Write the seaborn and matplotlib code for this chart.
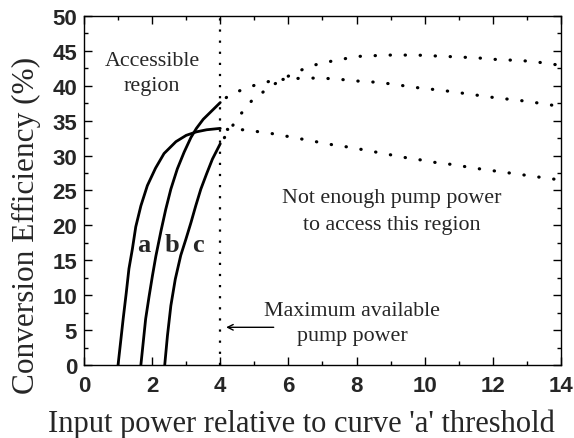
import numpy as np
import pandas as pd
import matplotlib
matplotlib.use('Agg')
import matplotlib.pyplot as plt
from matplotlib.ticker import MultipleLocator
import seaborn as sns

# solid curves (accessible region)
a_x = [1.0, 1.08, 1.15, 1.24, 1.32, 1.42, 1.52, 1.67, 1.86, 2.1, 2.35, 2.7, 3.0, 3.3, 3.6, 4.0]
a_y = [0, 3.5, 6.6, 10.3, 13.8, 16.6, 19.8, 22.8, 25.7, 28.2, 30.3, 32.0, 32.9, 33.4, 33.7, 33.9]
b_x = [1.67, 1.74, 1.81, 1.91, 2.01, 2.11, 2.26, 2.40, 2.55, 2.74, 2.94, 3.14, 3.3, 3.5, 3.75, 4.0]
b_y = [0, 3.3, 6.6, 9.8, 12.8, 15.6, 19.2, 22.3, 25.2, 28.1, 30.5, 32.6, 33.9, 35.2, 36.4, 37.6]
c_x = [2.37, 2.45, 2.55, 2.68, 2.84, 2.99, 3.14, 3.28, 3.43, 3.60, 3.77, 4.0]
c_y = [0, 4.2, 8.5, 12.3, 15.7, 18.0, 20.4, 22.8, 25.2, 27.4, 29.5, 31.7]

# dotted continuations (not enough pump power)
top_x = [4.0, 4.56, 4.93, 5.39, 5.8, 6.25, 6.7, 7.13, 7.57, 8.0, 8.45, 8.9, 9.33,
         9.77, 10.2, 10.66, 11.1, 11.55, 12.0, 12.43, 12.87, 13.3, 13.76, 14.0]
top_y = [31.7, 35.7, 37.9, 39.6, 40.9, 42.0, 42.9, 43.4, 43.8, 44.2, 44.3, 44.4, 44.4,
         44.4, 44.3, 44.2, 44.1, 44.0, 43.8, 43.7, 43.6, 43.4, 43.1, 42.9]
mid_x = [4.0, 4.26, 4.71, 5.15, 5.59, 6.03, 6.47, 6.91, 7.35, 7.77, 8.21, 8.66, 9.1,
         9.54, 9.98, 10.44, 10.88, 11.32, 11.76, 12.2, 12.65, 13.09, 13.53, 14.0]
mid_y = [37.7, 38.6, 39.6, 40.3, 40.8, 41.0, 41.1, 41.1, 41.0, 40.8, 40.6, 40.5, 40.2,
         39.9, 39.6, 39.4, 39.1, 38.8, 38.5, 38.2, 38.0, 37.7, 37.4, 37.0]
bot_x = [4.0, 4.26, 4.71, 5.15, 5.59, 6.03, 6.47, 6.91, 7.35, 7.79, 8.24, 8.68, 9.12,
         9.56, 10.0, 10.44, 10.88, 11.32, 11.76, 12.2, 12.65, 13.09, 13.53, 14.0]
bot_y = [34.0, 33.7, 33.7, 33.4, 33.1, 32.7, 32.3, 31.9, 31.5, 31.2, 30.8, 30.4, 30.0,
         29.6, 29.3, 28.9, 28.7, 28.3, 28.0, 27.7, 27.4, 27.1, 26.8, 26.5]

max_pump = 4.0

sns.set_style("ticks")
plt.rcParams['font.family'] = ['Liberation Serif', 'DejaVu Serif']

fig = plt.figure(figsize=(5.74, 4.39), dpi=100)
ax = fig.add_axes([0.1463, 0.1663, 0.831, 0.795])

for xs, ys in [(a_x, a_y), (b_x, b_y), (c_x, c_y)]:
    sns.lineplot(x=xs, y=ys, ax=ax, color='black', lw=2, estimator=None, sort=False,
                 solid_joinstyle='round')

for xs, ys in [(top_x, top_y), (mid_x, mid_y), (bot_x, bot_y)]:
    sns.lineplot(x=xs, y=ys, ax=ax, color='black', lw=2.3, estimator=None, sort=False,
                 linestyle=(2.4, (0.1, 4.6)), dash_capstyle='round')

ax.axvline(max_pump, color='black', lw=1.6, linestyle=(0, (1, 4)))

ax.set_xlim(0, 14)
ax.set_ylim(0, 50)
ax.xaxis.set_major_locator(MultipleLocator(2))
ax.xaxis.set_minor_locator(MultipleLocator(1))
ax.yaxis.set_major_locator(MultipleLocator(5))
ax.yaxis.set_minor_locator(MultipleLocator(2.5))
ax.tick_params(which='both', direction='in', top=True, right=True, width=1, color='black')
ax.tick_params(which='major', length=6)
ax.tick_params(which='minor', length=3)
ax.tick_params(axis='x', pad=7)
ax.tick_params(axis='y', pad=5)
for lab in ax.get_xticklabels() + ax.get_yticklabels():
    lab.set_family('Liberation Sans')
    lab.set_fontweight('bold')
    lab.set_fontsize(16)
for sp in ax.spines.values():
    sp.set_linewidth(1)
    sp.set_color('black')

ax.set_xlabel("Input power relative to curve 'a' threshold", fontsize=22)
ax.set_ylabel("Conversion Efficiency (%)", fontsize=22.5)
ax.xaxis.set_label_coords(0.455, -0.125)
ax.yaxis.set_label_coords(-0.09, 0.404)

ax.text(2.0, 41.8, "Accessible\nregion", fontsize=15.8, ha='center', va='center',
        linespacing=1.45)
ax.text(9.03, 22.1, "Not enough pump power\nto access this region", fontsize=15.8,
        ha='center', va='center', linespacing=1.55)
ax.text(7.88, 6.0, "Maximum available\npump power", fontsize=15.8, ha='center',
        va='center', linespacing=1.45)
ax.annotate('', xy=(4.09, 5.4), xytext=(5.65, 5.4),
            arrowprops=dict(arrowstyle='->', lw=1, color='black'))
for lbl, xp in [('a', 1.74), ('b', 2.57), ('c', 3.35)]:
    ax.text(xp, 17.3, lbl, fontsize=19, fontweight='bold', ha='center', va='center')

fig.savefig('out.png', dpi=100)
